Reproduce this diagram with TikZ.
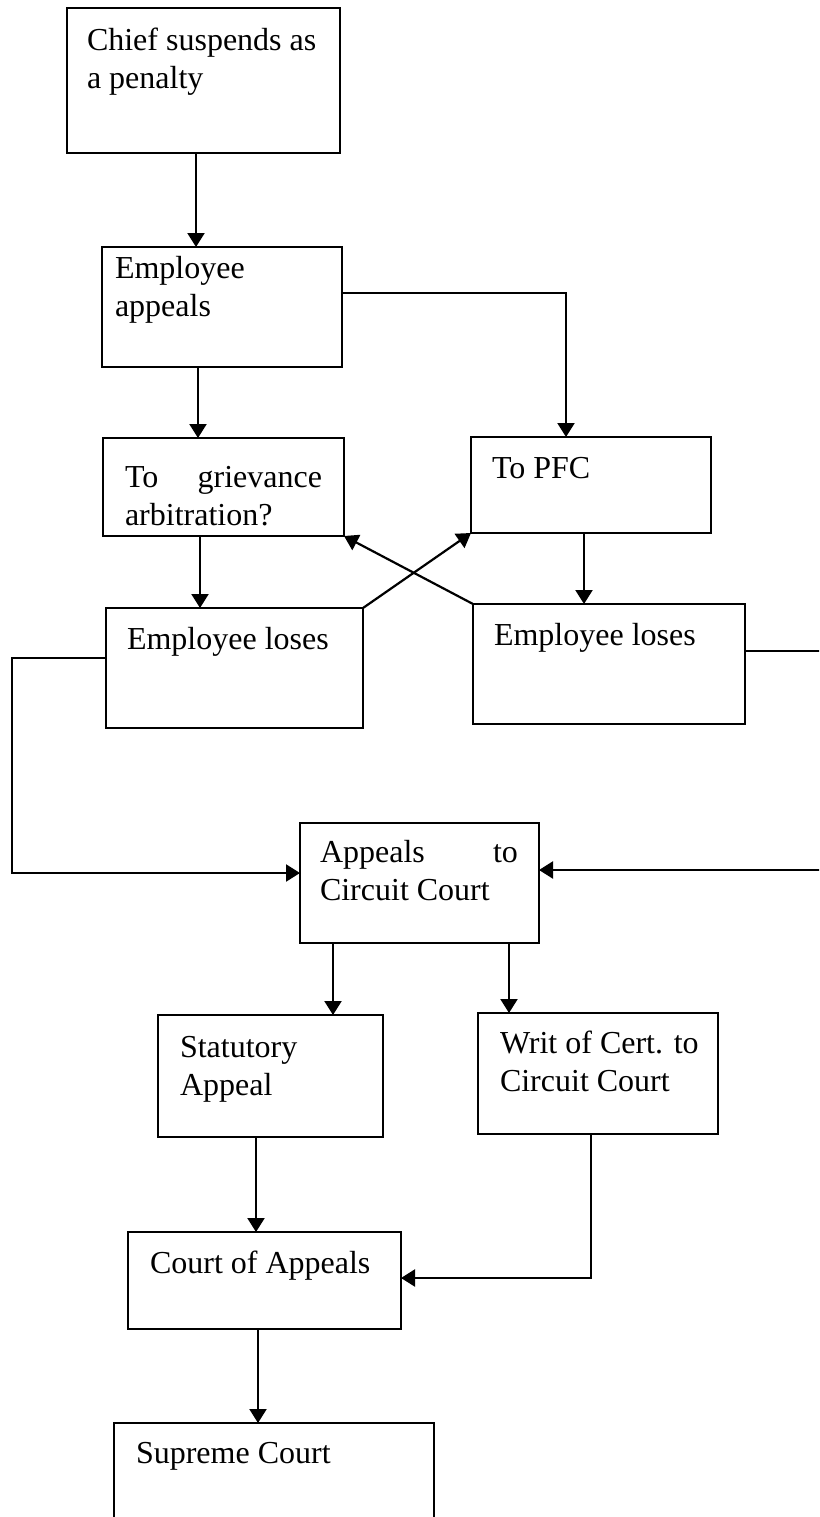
\documentclass[tikz,border=0pt]{standalone}
\usepackage{fontspec}
\setmainfont{Liberation Serif}
\usetikzlibrary{arrows.meta}
\tikzset{
  boxst/.style={draw=black, line width=2.6pt, inner sep=0pt, outer sep=0pt, fill=none},
  txt/.style={inner sep=0pt, outer sep=0pt, font=\fontsize{32}{38}\selectfont},
  conn/.style={line width=2.2pt, draw=black},
  arr/.style={conn, -{Triangle[length=14pt,width=17pt]}}
}
\newcommand\mybox[5]{\node[boxst,anchor=north west,minimum width={#4pt-#2pt},minimum height={#5pt-#3pt}] (#1) at (#2,#3) {};}
\begin{document}
\begin{tikzpicture}[x=1pt,y=-1pt]
\useasboundingbox (0,0) rectangle (819,1517);
\clip (0,0) rectangle (819,1517);
% boxes
\mybox{b1}{67}{8}{340}{153}
\mybox{b2}{102}{247}{342}{367}
\mybox{b3}{103}{438}{344}{536}
\mybox{b4}{471}{437}{711}{533}
\mybox{el1}{106}{608}{363}{728}
\mybox{el2}{473}{604}{745}{724}
\mybox{ap}{300}{823}{539}{943}
\mybox{st}{158}{1015}{383}{1137}
\mybox{wr}{478}{1013}{718}{1134}
\mybox{coa}{128}{1232}{401}{1329}
\mybox{sc}{114}{1423}{434}{1560}
% texts
\node[txt,anchor=base west] (t1) at (87,51) {\parbox[t]{300pt}{Chief suspends as\\a penalty}};
\node[txt,anchor=base west] (t2) at (115,278) {\parbox[t]{300pt}{Employee\\appeals}};
\node[txt,anchor=base west] (t3) at (125,487) {\parbox[t]{197pt}{To\hfill grievance\\arbitration?}};
\node[txt,anchor=base west] (t4) at (492,478) {To PFC};
\node[txt,anchor=base west] (t5) at (127,649) {Employee loses};
\node[txt,anchor=base west] (t6) at (494,645) {Employee loses};
\node[txt,anchor=base west] (t7) at (320,862) {\parbox[t]{198pt}{Appeals\hfill to\\Circuit Court}};
\node[txt,anchor=base west] (t8) at (180,1057) {\parbox[t]{300pt}{Statutory\\Appeal}};
\node[txt,anchor=base west] (t9) at (500,1053) {\parbox[t]{300pt}{Writ of Cert. to\\Circuit Court}};
\node[txt,anchor=base west] (t10) at (150,1273) {Court of Appeals};
\node[txt,anchor=base west] (t11) at (136,1463) {Supreme Court};
% connectors
\draw[arr] (b1.south -| 196,0) -- (b2.north -| 196,0);
\draw[arr] (b2.south -| 198,0) -- (b3.north -| 198,0);
\draw[arr] (b2.east |- 0,293) -- (566,293) -- (b4.north -| 566,0);
\draw[arr] (b3.south -| 200,0) -- (el1.north -| 200,0);
\draw[arr] (b4.south -| 584,0) -- (el2.north -| 584,0);
\draw[arr] (el2.north west) -- (b3.south east);
\draw[arr] (el1.north east) -- (b4.south west);
\draw[arr] (el1.west |- 0,658) -- (12,658) -- (12,873) -- (ap.west |- 0,873);
\draw[arr] (el2.east |- 0,651) -- (840,651) -- (840,870) -- (ap.east |- 0,870);
\draw[arr] (ap.south -| 333,0) -- (st.north -| 333,0);
\draw[arr] (ap.south -| 509,0) -- (wr.north -| 509,0);
\draw[arr] (st.south -| 256,0) -- (coa.north -| 256,0);
\draw[arr] (wr.south -| 591,0) -- (591,1278) -- (coa.east |- 0,1278);
\draw[arr] (coa.south -| 258,0) -- (sc.north -| 258,0);
\end{tikzpicture}
\end{document}
